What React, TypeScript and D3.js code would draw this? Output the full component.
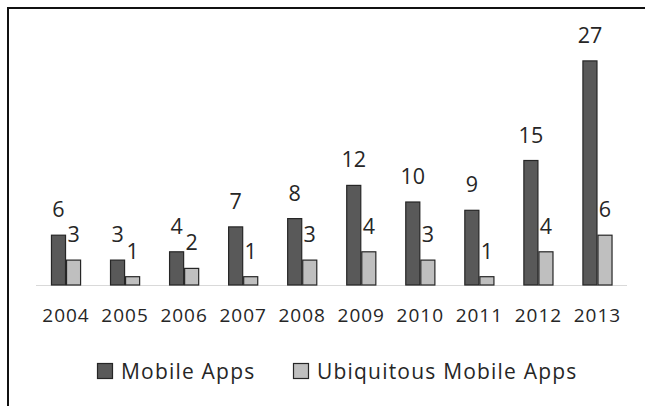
import { useEffect, useRef } from 'react'
import * as d3 from 'd3'

const years: string[] = ['2004', '2005', '2006', '2007', '2008', '2009', '2010', '2011', '2012', '2013']
const mobileApps: number[] = [6, 3, 4, 7, 8, 12, 10, 9, 15, 27]
const ubiquitousApps: number[] = [3, 1, 2, 1, 3, 4, 3, 1, 4, 6]
const seriesNames: string[] = ['Mobile Apps', 'Ubiquitous Mobile Apps']
const seriesColors: string[] = ['#595959', '#bfbfbf']

const FONT = '"Open Sans", "Liberation Sans", sans-serif'

export default function App() {
  const svgRef = useRef<SVGSVGElement>(null)

  const width = 645
  const height = 406

  useEffect(() => {
    const svg = d3.select(svgRef.current)
    svg.selectAll('*').remove()

    // outer frame (runs off the right/bottom edge like the source)
    svg.append('rect')
      .attr('x', 8).attr('y', 8)
      .attr('width', 700).attr('height', 500)
      .attr('fill', 'white')
      .attr('stroke', '#111').attr('stroke-width', 2)

    const baseY = 285
    const x0 = d3.scaleBand<string>()
      .domain(years)
      .range([36.5, 627])
      .paddingInner(0.49)
      .paddingOuter(0.245)
    const x1 = d3.scaleBand<number>()
      .domain([0, 1])
      .range([0, x0.bandwidth()])
    const y = d3.scaleLinear().domain([0, 30]).range([baseY, baseY - 249])

    // baseline
    svg.append('line')
      .attr('x1', 36).attr('x2', 627)
      .attr('y1', baseY + 0.5).attr('y2', baseY + 0.5)
      .attr('stroke', '#d9d9d9').attr('stroke-width', 1)

    const rows = years.map((yr, i) => ({ yr, vals: [mobileApps[i], ubiquitousApps[i]] }))

    const groups = svg.selectAll('g.grp')
      .data(rows)
      .enter()
      .append('g')
      .attr('class', 'grp')
      .attr('transform', d => 'translate(' + x0(d.yr) + ',0)')

    const cells = groups.selectAll('g.cell')
      .data(d => d.vals.map((v, s) => ({ v, s })))
      .enter()
      .append('g')
      .attr('class', 'cell')

    cells.append('rect')
      .attr('x', d => (x1(d.s) as number) + 0.5)
      .attr('y', d => y(d.v))
      .attr('width', x1.bandwidth() - 1)
      .attr('height', d => baseY - y(d.v))
      .attr('fill', d => seriesColors[d.s])
      .attr('stroke', '#262626')
      .attr('stroke-width', 1.2)

    cells.append('text')
      .attr('x', d => (x1(d.s) as number) + x1.bandwidth() / 2)
      .attr('y', d => y(d.v) - 18)
      .attr('text-anchor', 'middle')
      .attr('font-family', FONT)
      .attr('font-size', 21.5)
      .attr('fill', '#262626')
      .text(d => d.v)

    // x labels
    svg.append('g').selectAll('text')
      .data(years)
      .enter()
      .append('text')
      .attr('x', d => (x0(d) as number) + x0.bandwidth() / 2)
      .attr('y', 322)
      .attr('text-anchor', 'middle')
      .attr('font-family', FONT)
      .attr('font-size', 19)
      .attr('letter-spacing', 1)
      .attr('fill', '#262626')
      .text(d => d)

    // legend
    const legendX = [97, 293]
    const leg = svg.append('g').selectAll('g')
      .data(seriesNames)
      .enter()
      .append('g')
      .attr('transform', (d, i) => 'translate(' + legendX[i] + ',363)')
    leg.append('rect')
      .attr('x', 0.5).attr('y', 0.5)
      .attr('width', 15).attr('height', 15)
      .attr('fill', (d, i) => seriesColors[i])
      .attr('stroke', '#262626').attr('stroke-width', 1.2)
    leg.append('text')
      .attr('x', 24)
      .attr('y', 16)
      .attr('font-family', FONT)
      .attr('font-size', 21)
      .attr('letter-spacing', 1.2)
      .attr('fill', '#262626')
      .text(d => d)
  }, [])

  return (
    <svg
      ref={svgRef}
      width={width}
      height={height}
      style={{ position: 'absolute', left: 0, top: 0, display: 'block' }}
    />
  )
}
